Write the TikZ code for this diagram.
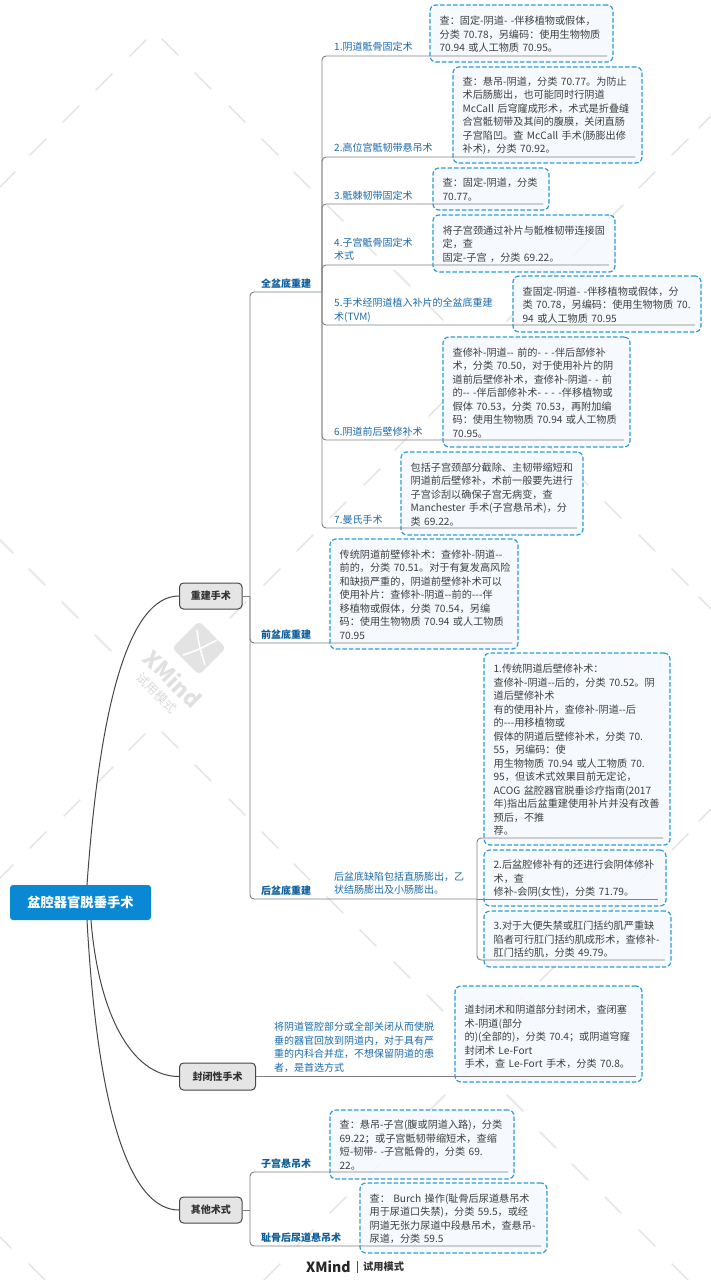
\documentclass[tikz,border=0pt]{standalone}
\usepackage{fontspec}
\setmainfont{Noto Sans CJK SC}[WordSpace=1.5]
\newcommand\mh{\kern0pt-}
\definecolor{wmgray}{HTML}{E6E6E6}
\definecolor{boxblue}{HTML}{2F9CD6}
\definecolor{boxfill}{HTML}{F5F9FD}
\definecolor{bodytext}{HTML}{3F3F3F}
\definecolor{labelblue}{HTML}{1C6BAB}
\definecolor{headblue}{HTML}{0F5E9C}
\definecolor{rootblue}{HTML}{0A88D4}
\tikzset{
  wmstroke/.style={draw=wmgray,line width=1.5pt,line cap=round},
  notebox/.style={draw=boxblue,line width=1.2pt,dash pattern=on 4.5pt off 2pt,fill=boxfill,fill opacity=.88,
    rounded corners=6pt,inner sep=0pt},
  notetext/.style={anchor=west,inner sep=0pt,align=left,text=bodytext,font=\fontsize{10.15}{13.5}\selectfont},
  rootnode/.style={fill=rootblue,rounded corners=3pt,text=white,font=\fontsize{13.3}{15}\selectfont\bfseries,inner sep=0pt},
  topicnode/.style={draw=black!72,line width=1pt,fill=black!10,rounded corners=4pt,text=black!80,font=\fontsize{10}{12}\selectfont\bfseries,inner sep=0pt},
  sublabel/.style={anchor=west,yshift=-0.7pt,inner sep=0pt,align=left,text=labelblue,font=\fontsize{10}{13.5}\selectfont},
  headlabel/.style={anchor=west,yshift=-0.5pt,inner sep=0pt,text=headblue,font=\fontsize{10}{13.5}\selectfont\bfseries},
  curveconn/.style={draw=black!72,line width=1pt},
  branch/.style={draw=black!50,line width=.9pt,rounded corners=4pt},
}
\newcommand\notebx[6]{%
  \pgfmathsetmacro\bxw{#4-#2}\pgfmathsetmacro\bxh{#5-#3}%
  \pgfmathsetmacro\bxcx{(#2+#4)/2}\pgfmathsetmacro\bxcy{(#3+#5)/2}%
  \node[notebox,minimum width=\bxw pt,minimum height=\bxh pt] (#1) at (\bxcx,\bxcy) {};
  \node[notetext] (#1t) at ([xshift=10pt,yshift=-0.7pt]#1.west) {#6};}
\begin{document}
\begin{tikzpicture}[x=1pt,y=-1pt]
\useasboundingbox (0,0) rectangle (710,1280);
\fill[white] (0,0) rectangle (710,1280);
% watermark strokes
\foreach \x/\y in {170/47,203/81,237/114,270/147,302/180,335/213,368/247,402/278,435/312,468/345,
  5/545,37/577,70/610,103/643,
  515/408,548/445,580/477,613/510,647/543,680/577,707/605,
  170/740,203/773,237/807,270/840,302/872,335/905,368/938,402/970,435/1003,468/1038,
  482/1070,515/1103,548/1140,580/1172,613/1205,647/1238,680/1272,3/1240,37/1272}
  {\draw[wmstroke] ({\x-8},{\y-8}) -- ({\x+8},{\y+8});}
\foreach \x/\y in {138/48,104/82,71/114,38/147,7/180,
  707/120,680/147,647/180,615/213,582/247,548/280,515/313,482/345,
  437/408,403/442,372/477,338/510,305/543,272/577,238/610,
  137/742,105/775,72/808,38/840,5/873,
  707/813,680/842,647/872,615/907,582/940,548/973,515/1005,482/1040,
  470/1070,437/1103,403/1137,372/1172,338/1205,305/1238,272/1272}
  {\draw[wmstroke] ({\x-8},{\y+8}) -- ({\x+8},{\y-8});}
% watermark logo
\node[fill=black!11,rotate=45,minimum size=38pt,rounded corners=4pt,inner sep=0pt] (wmlogo) at (199,648) {};
\draw[white,line width=1.6pt] (197,630) .. controls (199,645) .. (205,665);
\draw[white,line width=1.6pt] (183,655) .. controls (198,650) .. (217,640);
\node[rotate=-45,text=black!12,inner sep=0pt,font=\fontsize{22}{22}\selectfont\bfseries] (wmname) at (173,679) {XMind};
\node[rotate=-45,text=black!14,inner sep=0pt,font=\fontsize{12.5}{12.5}\selectfont] (wmtrial) at (157,693) {试用模式};
% root and topics
\node[rootnode,minimum width=141pt,minimum height=35pt] (root) at (80.5,902.5) {盆腔器官脱垂手术};
\node[topicnode,minimum width=62.5pt,minimum height=26pt] (t1) at (210.75,596) {重建手术};
\node[topicnode,minimum width=76pt,minimum height=27pt] (t2) at (217.5,1076.5) {封闭性手术};
\node[topicnode,minimum width=62.5pt,minimum height=26pt] (t3) at (210.75,1210) {其他术式};
\coordinate (r1) at (87,885);
\coordinate (r2) at (91,920);
\coordinate (r3) at (87,920);
\draw[curveconn] (r1) .. controls (100,700) and (130,596) .. (t1.west);
\draw[curveconn] (r2) .. controls (98,1010) and (130,1076.5) .. (t2.west);
\draw[curveconn] (r3) .. controls (98,1120) and (132,1210) .. (t3.west);
% notes
\notebx{b1}{430}{5}{613}{62}{查：固定-阴道- -伴移植物或假体，\\分类 70.78，另编码：使用生物物质\\70.94 或人工物质 70.95。}
\notebx{b2}{453}{67}{642}{163}{查：悬吊-阴道，分类 70.77。为防止\\术后肠膨出，也可能同时行阴道\\McCall 后穹窿成形术，术式是折叠缝\\合宫骶韧带及其间的腹膜，关闭直肠\\子宫陷凹。查 McCall 手术(肠膨出修\\补术)，分类 70.92。}
\notebx{b3}{433}{168}{549}{210}{查：固定-阴道，分类\\70.77。}
\notebx{b4}{433}{215}{615}{272}{将子宫颈通过补片与骶椎韧带连接固\\定，查\\固定-子宫 ，分类 69.22。}
\notebx{b5}{513}{276}{701}{332}{查固定-阴道- -伴移植物或假体，分\\类 70.78，另编码：使用生物物质 70.\\94 或人工物质 70.95}
\notebx{b6}{443}{337}{630}{447}{查修补-阴道-\mh{} 前的- - -伴后部修补\\术，分类 70.50，对于使用补片的阴\\道前后壁修补术，查修补-阴道- - 前\\的-\mh{} -伴后部修补术- - - -伴移植物或\\假体 70.53，分类 70.53，再附加编\\码：使用生物物质 70.94 或人工物质\\70.95。}
\notebx{b7}{401}{452}{583}{535}{包括子宫颈部分截除、主韧带缩短和\\阴道前后壁修补，术前一般要先进行\\子宫诊刮以确保子宫无病变，查\\Manchester 手术(子宫悬吊术)，分\\类 69.22。}
\notebx{b8}{330}{539}{518}{649}{传统阴道前壁修补术：查修补-阴道-\mh\\前的，分类 70.51。对于有复发高风险\\和缺损严重的，阴道前壁修补术可以\\使用补片：查修补-阴道-\mh{}前的-\mh\mh{}伴\\移植物或假体，分类 70.54，另编\\码：使用生物物质 70.94 或人工物质\\70.95}
\notebx{b9}{484}{653}{670}{845}{1.传统阴道后壁修补术：\\查修补-阴道-\mh{}后的，分类 70.52。阴\\道后壁修补术\\有的使用补片，查修补-阴道-\mh{}后\\的-\mh\mh{}用移植物或\\假体的阴道后壁修补术，分类 70.\\55，另编码：使\\用生物物质 70.94 或人工物质 70.\\95，但该术式效果目前无定论，\\ACOG 盆腔器官脱垂诊疗指南(2017\\年)指出后盆重建使用补片并没有改善\\预后，不推\\荐。}
\notebx{b10}{484}{850}{666}{906}{2.后盆腔修补有的还进行会阴体修补\\术，查\\修补-会阴(女性)，分类 71.79。}
\notebx{b11}{484}{911}{671}{967}{3.对于大便失禁或肛门括约肌严重缺\\陷者可行肛门括约肌成形术，查修补-\\肛门括约肌，分类 49.79。}
\notebx{b12}{455}{986}{642}{1082}{\mbox{}\\道封闭术和阴道部分封闭术，查闭塞\\术-阴道(部分\\的)(全部的)，分类 70.4；或阴道穹窿\\封闭术 Le-Fort\\手术，查 Le-Fort 手术，分类 70.8。}
\notebx{b13}{330}{1110}{514}{1179}{查：悬吊-子宫(腹或阴道入路)，分类\\69.22；或子宫骶韧带缩短术，查缩\\短-韧带- -子宫骶骨的，分类 69.\\22。}
\notebx{b14}{360}{1183}{547}{1253}{查： Burch 操作(耻骨后尿道悬吊术\\用于尿道口失禁)，分类 59.5，或经\\阴道无张力尿道中段悬吊术，查悬吊-\\尿道，分类 59.5}
% labels
\node[sublabel] (s1) at (334,46) {1.阴道骶骨固定术};
\node[sublabel] (s2) at (334,147) {2.高位宫骶韧带悬吊术};
\node[sublabel] (s3) at (334,195) {3.骶棘韧带固定术};
\node[sublabel] (s4) at (334,248.5) {4.子宫骶骨固定术\\术式};
\node[sublabel] (s5) at (334,309.5) {5.手术经阴道植入补片的全盆底重建\\术(TVM)};
\node[sublabel] (s6) at (334,431) {6.阴道前后壁修补术};
\node[sublabel] (s7) at (334,519) {7.曼氏手术};
\node[headlabel] (h1) at (261,283) {全盆底重建};
\node[headlabel] (h2) at (261,634) {前盆底重建};
\node[headlabel] (h3) at (261,890) {后盆底重建};
\node[headlabel] (h4) at (261,1163) {子宫悬吊术};
\node[headlabel] (h5) at (261,1237) {耻骨后尿道悬吊术};
\node[sublabel] (n1) at (334,882.5) {后盆底缺陷包括直肠膨出，乙\\状结肠膨出及小肠膨出。};
\node[sublabel] (n2) at (274,1046.5) {将阴道管腔部分或全部关闭从而使脱\\垂的器官回放到阴道内，对于具有严\\重的内科合并症，不想保留阴道的患\\者，是首选方式};
% junctions
\coordinate (j1) at (250,596);
\coordinate (j2) at (322,292);
\coordinate (j3) at (477,899);
\coordinate (j4) at (250,1210);
\coordinate (e1) at (607,56);
\coordinate (e2) at (635,157);
\coordinate (e3) at (543,204);
\coordinate (e4) at (609,265);
\coordinate (e5) at (695,325);
\coordinate (e6) at (624,440);
\coordinate (e7) at (577,528);
\coordinate (e8) at (512,643);
\coordinate (e9) at (663,838);
\coordinate (e10) at (658,899);
\coordinate (e11) at (665,960);
\coordinate (e12) at (636,1076.5);
\coordinate (e13) at (508,1172);
\coordinate (e14) at (541,1246);
% connectors
\draw[branch] (t1.east) -- (j1);
\draw[branch] (j1) |- (j2);
\draw[branch] (j1) |- (e8);
\draw[branch] (j1) |- (j3);
\foreach \n in {1,...,7} {\draw[branch] (j2) |- (e\n);}
\draw[branch] (j3) |- (e9);
\draw[branch] (j3) -- (e10);
\draw[branch] (j3) |- (e11);
\draw[branch] (t2.east) -- (e12);
\draw[branch] (t3.east) -- (j4);
\draw[branch] (j4) |- (e13);
\draw[branch] (j4) |- (e14);
% footer
\node[anchor=west,inner sep=0pt,text=black!85,font=\fontsize{14}{16}\selectfont\bfseries] (fxm) at (306,1267) {XMind};
\coordinate (fa) at (357.7,1261);
\coordinate (fb) at (357.7,1273);
\draw[black!70,line width=.8pt] (fa) -- (fb);
\node[anchor=west,inner sep=0pt,text=black!80,font=\fontsize{10.2}{12}\selectfont\bfseries] (ftr) at (363,1267) {试用模式};
\end{tikzpicture}
\end{document}
